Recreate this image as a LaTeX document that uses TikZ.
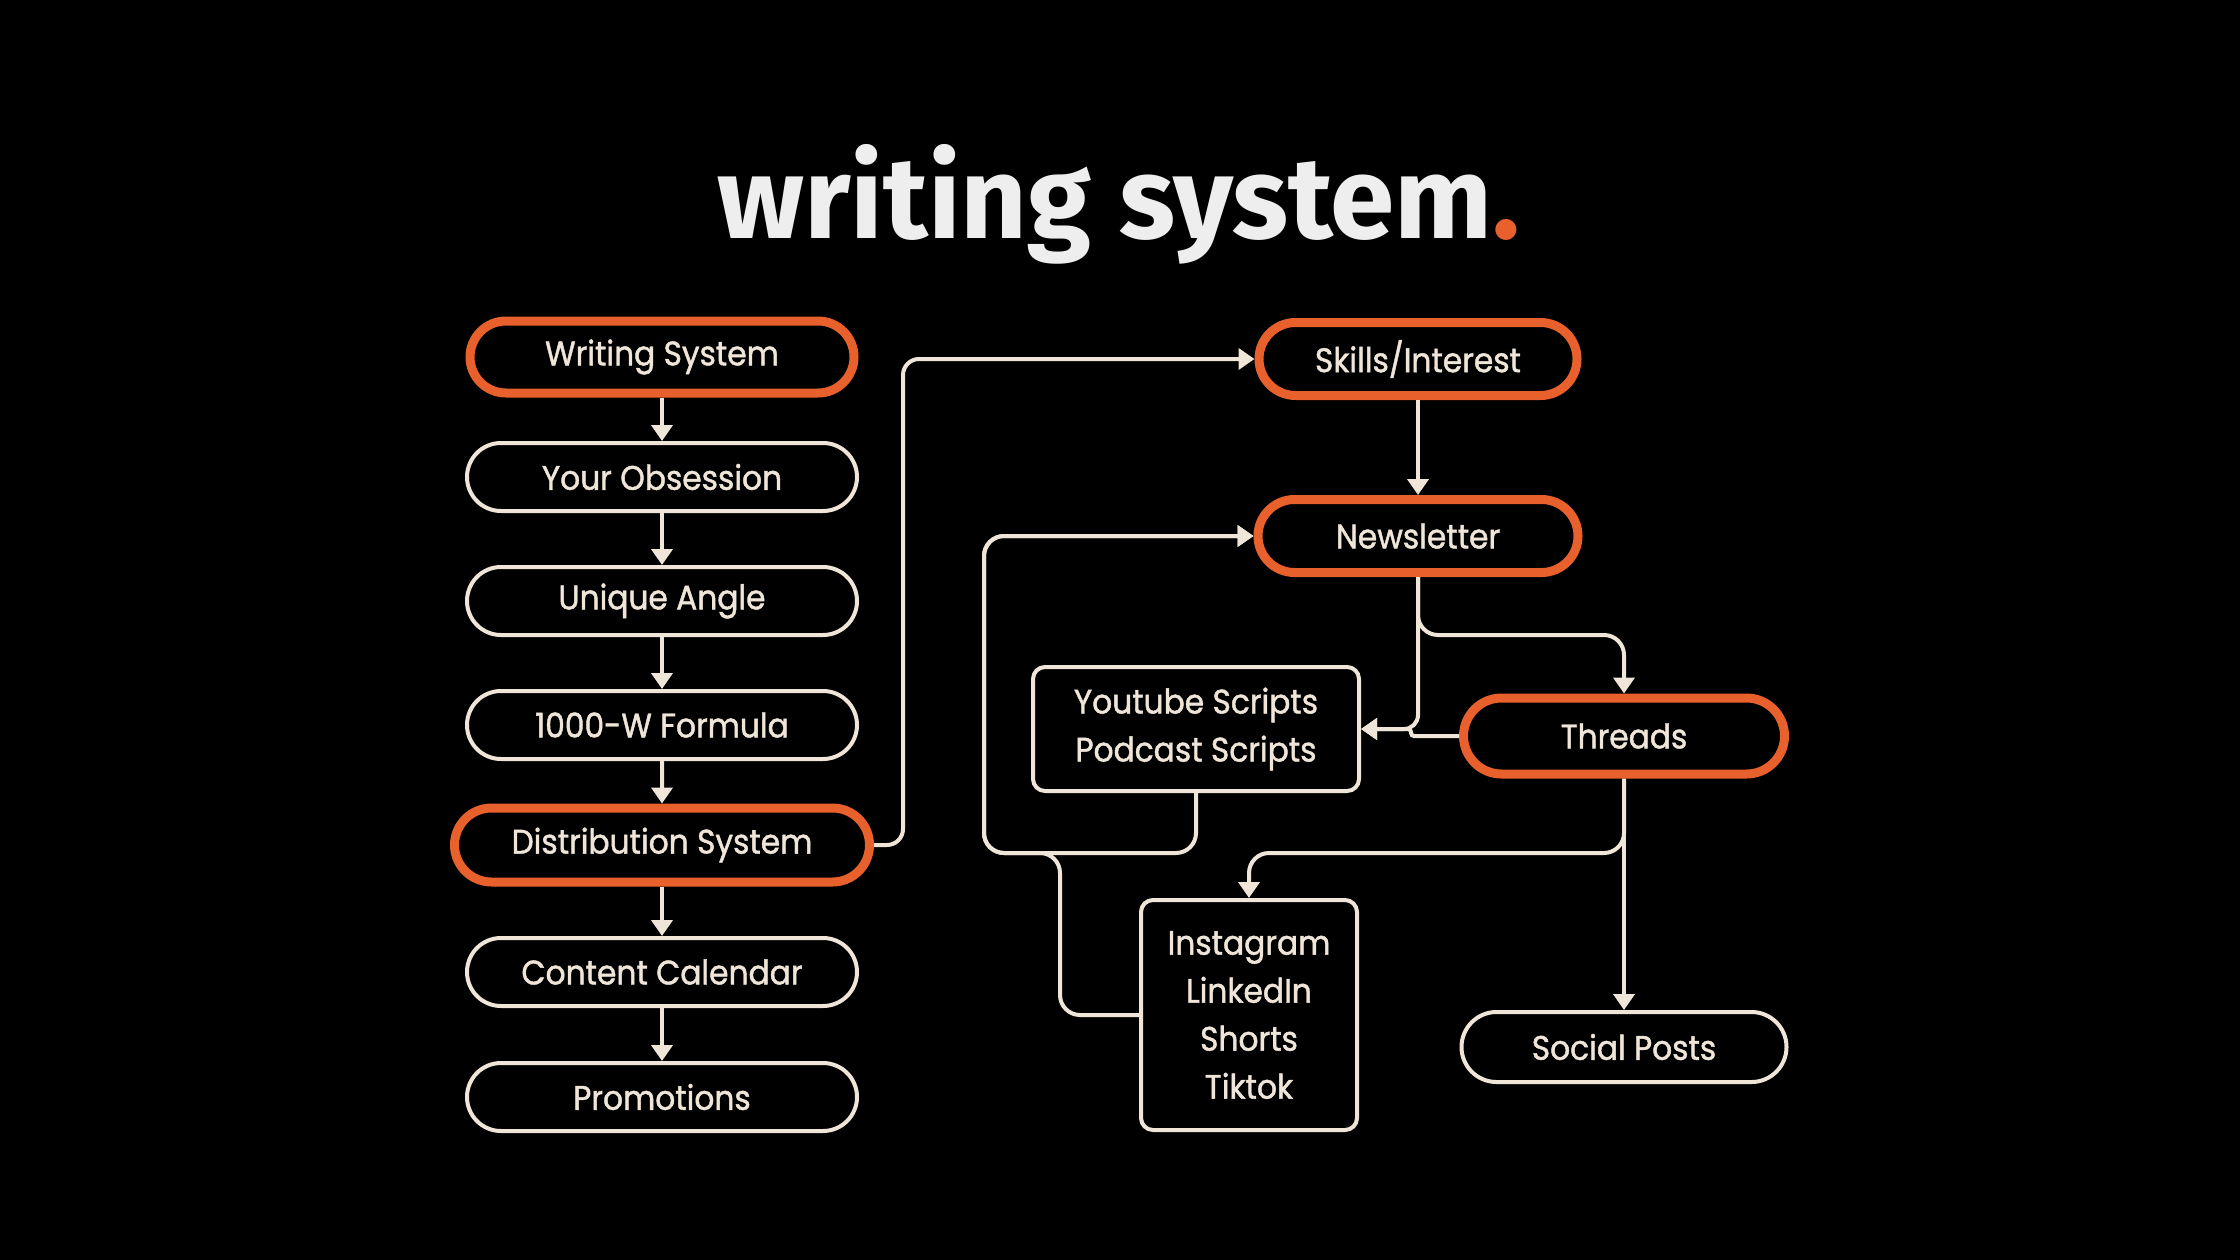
\documentclass[tikz,border=0pt]{standalone}
\usepackage{fontspec}
\usetikzlibrary{shapes.misc,arrows.meta}
\newfontfamily\nodefont{Poppins}[FakeBold=1.3,FakeStretch=0.92]
\newfontfamily\titlefont{Fira Sans}
\definecolor{orng}{HTML}{E8602C}
\definecolor{crm}{HTML}{EFE5D9}
\definecolor{ttl}{HTML}{EEEEEE}
\begin{document}
\begin{tikzpicture}[x=1pt,y=-1pt,
  pill/.style={rounded rectangle, draw=crm, line width=4pt, fill=black, text=crm,
    font=\nodefont\fontsize{34}{48}\selectfont, inner sep=0pt,
    minimum width=390pt, minimum height=68pt},
  opill/.style={pill, draw=orng, line width=9pt},
  textbox/.style={rectangle, rounded corners=12pt, draw=crm, line width=4pt, fill=black,
    text=crm, font=\nodefont\fontsize{34}{48}\selectfont, align=center, inner sep=0pt},
  conn/.style={draw=crm, line width=4pt},
  arr/.style={conn, -{Triangle[width=21pt,length=16pt]}}
]
\fill[black] (0,0) rectangle (2240,1260);

\node[font=\titlefont\bfseries\fontsize{116}{120}\selectfont, text=ttl, anchor=base]
  (title) at (1119,238) {writing system\textcolor{orng}{.}};

% left column
\node[opill, minimum width=384pt, minimum height=72pt] (ws) at (662,357) {Writing System};
\node[pill] (yo) at (662,477) {Your Obsession};
\node[pill] (ua) at (662,601) {Unique Angle};
\node[pill] (fw) at (662,725) {1000-W Formula};
\node[opill, minimum width=415pt, minimum height=74pt] (ds) at (662,845) {Distribution System};
\node[pill] (cc) at (662,972) {Content Calendar};
\node[pill] (pr) at (662,1097) {Promotions};

% right side
\node[opill, minimum width=318pt, minimum height=73pt] (sk) at (1418,359) {Skills/Interest};
\node[opill, minimum width=320pt, minimum height=73pt] (nl) at (1418,536) {Newsletter};
\node[opill, minimum width=321pt, minimum height=76pt] (th) at (1624,736) {Threads};
\node[textbox, minimum width=326pt, minimum height=124pt] (yt) at (1196,729) {Youtube Scripts\\Podcast Scripts};
\node[textbox, minimum width=216pt, minimum height=230pt] (ig) at (1249,1015) {Instagram\\LinkedIn\\Shorts\\Tiktok};
\node[pill, minimum width=325pt, minimum height=70pt] (sp) at (1624,1047) {Social Posts};

% left column arrows
\draw[arr] (ws) -- (yo);
\draw[arr] (yo) -- (ua);
\draw[arr] (ua) -- (fw);
\draw[arr] (fw) -- (ds);
\draw[arr] (ds) -- (cc);
\draw[arr] (cc) -- (pr);

% distribution to skills
\draw[arr, rounded corners=16pt] (ds.east) -- (903,845) -- (903,359) -- (sk.west);
\draw[arr] (sk) -- (nl);

% newsletter branches
\draw[arr, rounded corners=20pt] (nl.south) -- (1418,635) -- (1624,635) -- (th.north);
\draw[arr, rounded corners=14pt] (nl.south) -- (1418,729) -- (yt.east);
\draw[arr, rounded corners=3pt] (th.west) -- (1411,736) -- (1411,729) -- (yt.east);

% threads down
\draw[arr] (th.south) -- (sp.north);
\draw[arr, rounded corners=20pt] (th.south) -- (1624,853) -- (1249,853) -- (ig.north);

% loops back to newsletter
\draw[arr, rounded corners=20pt] (yt.south) -- (1196,853) -- (984,853) -- (984,536) -- (nl.west);
\draw[arr, rounded corners=20pt] (ig.west) -- (1060,1015) -- (1060,853) -- (984,853) -- (984,536) -- (nl.west);
\end{tikzpicture}
\end{document}
